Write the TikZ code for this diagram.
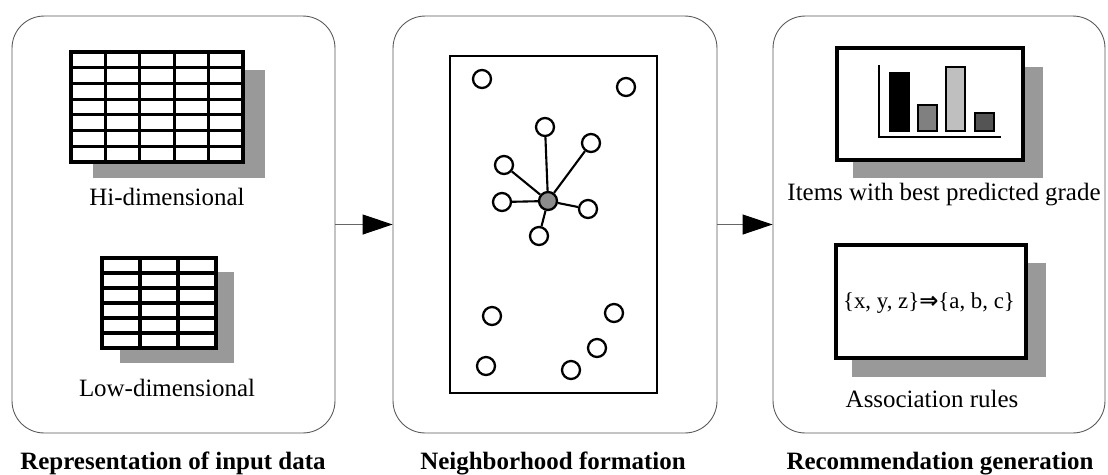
\documentclass[tikz,border=0pt]{standalone}
\usepackage{fontspec}
\setmainfont{Liberation Serif}
\newfontfamily\arrowfont{DejaVu Sans}
\usetikzlibrary{arrows.meta}

\tikzset{
  panel/.style={rectangle,draw=black!65,line width=0.5pt,rounded corners=0.64cm,minimum height=8.34cm},
  shade/.style={fill=black!40},
  tbl/.style={line width=1.8pt},
  dot/.style={circle,draw,line width=1.3pt,fill=white,minimum size=0.36cm,inner sep=0pt},
  lbl/.style={font=\fontsize{14.2}{17}\selectfont,anchor=base,inner sep=0pt},
  stagecap/.style={font=\fontsize{14.2}{17}\selectfont\bfseries,anchor=base,inner sep=0pt},
  flow/.style={black!60,line width=0.6pt,-{Triangle[length=0.6cm,width=0.4cm,black]}},
  bar/.style={draw,line width=1.3pt},
}

\begin{document}
\begin{tikzpicture}[x=0.02cm,y=-0.02cm]
\useasboundingbox (0,0) rectangle (1108,474);
% the three stages
\node[panel,minimum width=6.46cm] (p1) at (173.5,224.5) {};
\node[panel,minimum width=6.48cm] (p2) at (555,224.5) {};
\node[panel,minimum width=6.64cm] (p3) at (939,224.5) {};
\draw[flow] (p1) -- (p2);
\draw[flow] (p2) -- (p3);

% input data: hi-dimensional table
\fill[shade] (93,70) rectangle (265,178);
\filldraw[fill=white,tbl] (71,52) rectangle (243,162);
\foreach \i in {1,...,4}
  \draw[tbl] ({71+\i*34.4},52) -- ({71+\i*34.4},162);
\foreach \j in {1,...,6}
  \draw[tbl] (71,{52+\j*15.714}) -- (243,{52+\j*15.714});
\node[lbl] (hi) at (167,205) {Hi-dimensional};

% input data: low-dimensional table
\fill[shade] (120,272) rectangle (234,363);
\filldraw[fill=white,tbl] (102,258) rectangle (216,348);
\foreach \i in {1,2}
  \draw[tbl] ({102+\i*38},258) -- ({102+\i*38},348);
\foreach \j in {1,...,5}
  \draw[tbl] (102,{258+\j*15}) -- (216,{258+\j*15});
\node[lbl] (lo) at (167,396) {Low-dimensional};

% neighborhood
\node[rectangle,draw,line width=1.6pt,minimum width=4.14cm,minimum height=6.74cm] (fld) at (553.5,224.5) {};
\node[dot,fill=black!45] (u) at (548,201) {};
\node[dot] (n1) at (545,127) {};
\node[dot] (n2) at (591,143) {};
\node[dot] (n3) at (504,165) {};
\node[dot] (n4) at (502,202) {};
\node[dot] (n5) at (588,209) {};
\node[dot] (n6) at (539,236) {};
\foreach \n in {n1,n2,n3,n4,n5,n6}
  \draw[line width=1.2pt] (u) -- (\n);
\node[dot] (o1) at (482,79) {};
\node[dot] (o2) at (626,87) {};
\node[dot] (o3) at (492,316) {};
\node[dot] (o4) at (614,313) {};
\node[dot] (o5) at (597,348) {};
\node[dot] (o6) at (486,366) {};
\node[dot] (o7) at (571,370) {};

% recommendations: bar chart
\fill[shade] (853,67) rectangle (1043,178);
\filldraw[fill=white,line width=1.8pt] (837,48) rectangle (1023,160);
\draw[line width=1.3pt] (879,65) -- (879,137) -- (1001,137);
\filldraw[bar,fill=black] (890,73) rectangle (909,131);
\filldraw[bar,fill=black!50] (918,105) rectangle (937,131);
\filldraw[bar,fill=black!25] (946,67) rectangle (965,131);
\filldraw[bar,fill=black!67] (975,113) rectangle (994,131);
\node[lbl] (best) at (944,200) {Items with best predicted grade};

% recommendations: rules
\fill[shade] (852,263) rectangle (1046,377);
\filldraw[fill=white,line width=1.8pt] (836,245) rectangle (1026,358);
\node[lbl,font=\fontsize{13}{15}\selectfont] (rule) at (929,308) {\{x, y, z\}{\arrowfont\bfseries ⇒}\{a, b, c\}};
\node[lbl] (assoc) at (932,407) {Association rules};

% stage captions
\node[stagecap] (c1) at (173,469) {Representation of input data};
\node[stagecap] (c2) at (553,469) {Neighborhood formation};
\node[stagecap] (c3) at (940,469) {Recommendation generation};
\end{tikzpicture}
\end{document}
